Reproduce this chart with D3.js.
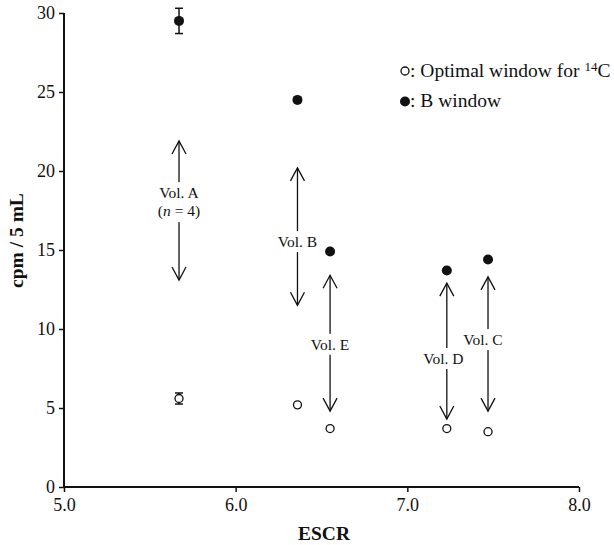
<!DOCTYPE html>
<html><head><meta charset="utf-8">
<script src="https://cdn.jsdelivr.net/npm/d3@7"></script>
<style>
body{margin:0;background:#fff;}
svg{display:block;}
text{font-family:"Liberation Serif","Times New Roman",serif;fill:#111;}
</style></head>
<body>
<svg id="chart" width="614" height="545"></svg>
<script>
// ---- data ----
const vols = ["A", "B", "E", "D", "C"];
const escr = [5.67, 6.36, 6.55, 7.23, 7.47];
const bWindow = [29.5, 24.5, 14.9, 13.7, 14.4];
const bWindowErr = [0.8, 0, 0, 0, 0];
const optimal = [5.6, 5.2, 3.7, 3.7, 3.5];
const optimalErr = [0.35, 0, 0, 0, 0];
const arrowTop = [21.9, 20.2, 13.4, 12.9, 13.3];
const arrowBottom = [13.1, 11.5, 4.8, 4.3, 4.8];
const labelY = [18.6, 15.5, 9.0, 8.1, 9.3];
const labelDx = [0, 0, 0, -0.02, -0.03];
const xTicks = [5.0, 6.0, 7.0, 8.0];
const yTicks = [0, 5, 10, 15, 20, 25, 30];
const legendItems = ["Optimal window for ", "B window"];

// ---- layout ----
const W = 614, H = 545;
const margin = {left: 64, right: 35, top: 13, bottom: 58};
const svg = d3.select("#chart");
const x = d3.scaleLinear().domain([5, 8]).range([margin.left, W - margin.right]);
const y = d3.scaleLinear().domain([0, 30]).range([H - margin.bottom, margin.top]);

// axes
const xAxis = d3.axisBottom(x).tickValues(xTicks).tickFormat(d3.format(".1f")).tickSize(5).tickPadding(6);
const yAxis = d3.axisLeft(y).tickValues(yTicks).tickFormat(d3.format("d")).tickSize(5).tickPadding(4);
const gx = svg.append("g").attr("transform", `translate(0,${y(0)})`).call(xAxis);
const gy = svg.append("g").attr("transform", `translate(${x(5)},0)`).call(yAxis);
[gx, gy].forEach(g => {
  g.select(".domain").attr("stroke", "#111").attr("stroke-width", 2);
  g.selectAll(".tick line").attr("stroke", "#111").attr("stroke-width", 1.5);
  g.selectAll(".tick text").style("font-family", '"Liberation Serif",serif').style("font-size", "18px").attr("fill", "#111");
});
gx.select(".domain").attr("d", `M${x(5)},0H${x(8)}`);
gy.select(".domain").attr("d", `M0,${y(30)}V${y(0)}`);

// axis titles
svg.append("text").attr("x", 324).attr("y", 540).attr("text-anchor", "middle")
  .style("font-size", "19.5px").style("font-weight", "bold").text("ESCR");
svg.append("text").attr("transform", `translate(23,${y(15.6)}) rotate(-90)`).attr("text-anchor", "middle")
  .style("font-size", "19.5px").style("font-weight", "bold").text("cpm / 5 mL");

// arrows
const arrowG = svg.append("g");
vols.forEach((v, i) => {
  const ax = x(escr[i]);
  const y1 = y(arrowTop[i]), y2 = y(arrowBottom[i]);
  const g = arrowG.append("g").attr("stroke", "#111").attr("stroke-width", 1.3).attr("fill", "none");
  g.append("line").attr("x1", ax).attr("x2", ax).attr("y1", y1).attr("y2", y2);
  g.append("path").attr("d", `M${ax-7},${y1+13}L${ax},${y1}L${ax+7},${y1+13}`);
  g.append("path").attr("d", `M${ax-7},${y2-13}L${ax},${y2}L${ax+7},${y2-13}`);
});
// labels with white backing
vols.forEach((v, i) => {
  const lx = x(escr[i] + labelDx[i]);
  const ly = y(labelY[i]);
  const lg = svg.append("g");
  const bg = lg.append("rect").attr("fill", "#fff");
  lg.append("text").attr("x", lx).attr("y", ly + 5).attr("text-anchor", "middle")
    .style("font-size", "15.5px").text("Vol. " + v);
  if (v === "A") {
    const t2 = lg.append("text").attr("x", lx).attr("y", ly + 23).attr("text-anchor", "middle")
      .style("font-size", "15.5px");
    t2.append("tspan").text("(");
    t2.append("tspan").style("font-style", "italic").text("n");
    t2.append("tspan").text(" = 4)");
  }
  const bb = lg.node().getBBox();
  bg.attr("x", bb.x - 1).attr("y", bb.y - 2).attr("width", bb.width + 2).attr("height", bb.height + 4);
});

// error bars
function errBars(vals, errs) {
  const g = svg.append("g").attr("stroke", "#111").attr("stroke-width", 1.5);
  vals.forEach((val, i) => {
    if (!errs[i]) return;
    const cx = x(escr[i]);
    const t = y(val + errs[i]), b = y(val - errs[i]);
    g.append("line").attr("x1", cx).attr("x2", cx).attr("y1", t).attr("y2", b);
    g.append("line").attr("x1", cx - 4).attr("x2", cx + 4).attr("y1", t).attr("y2", t);
    g.append("line").attr("x1", cx - 4).attr("x2", cx + 4).attr("y1", b).attr("y2", b);
  });
}
errBars(bWindow, bWindowErr);
errBars(optimal, optimalErr);

// points
svg.append("g").selectAll("circle").data(bWindow).join("circle")
  .attr("cx", (d, i) => x(escr[i])).attr("cy", d => y(d)).attr("r", 5).attr("fill", "#111");
svg.append("g").selectAll("circle").data(optimal).join("circle")
  .attr("cx", (d, i) => x(escr[i])).attr("cy", d => y(d)).attr("r", 4)
  .attr("fill", "#fff").attr("stroke", "#111").attr("stroke-width", 1.3);

// legend
const lgd = svg.append("g");
lgd.append("circle").attr("cx", 405).attr("cy", 71).attr("r", 4).attr("fill", "#fff").attr("stroke", "#111").attr("stroke-width", 1.3);
const lt1 = lgd.append("text").attr("x", 410).attr("y", 77).style("font-size", "19.5px");
lt1.append("tspan").text(": " + legendItems[0]);
lt1.append("tspan").attr("dy", -6).style("font-size", "13px").text("14");
lt1.append("tspan").attr("dy", 6).text("C");
lgd.append("circle").attr("cx", 405).attr("cy", 101.5).attr("r", 5).attr("fill", "#111");
lgd.append("text").attr("x", 410).attr("y", 107).style("font-size", "19.5px").text(": " + legendItems[1]);
</script>
</body></html>
